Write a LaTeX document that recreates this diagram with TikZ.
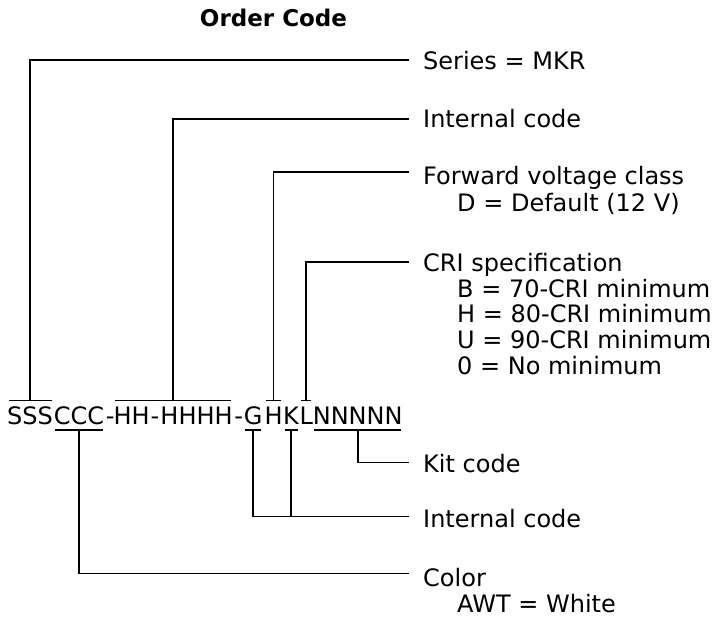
\documentclass[tikz,border=0pt]{standalone}
\usepackage{fontspec}
\setmainfont{DejaVu Sans}
\begin{document}
\begin{tikzpicture}[x=1pt,y=-1pt,
  title/.style={anchor=base, inner sep=0pt, font=\fontsize{23}{25}\selectfont\bfseries},
  lbl/.style={anchor=base west, inner sep=0pt, font=\fontsize{24}{26}\selectfont},
  code/.style={anchor=base west, inner xsep=0pt, inner ysep=6pt, text height=17.3pt, text depth=0pt, font=\fontsize{24}{26}\selectfont},
  hyph/.style={code, anchor=base},
  bar/.style={line width=1.7pt, shorten <=1.6pt, shorten >=1.6pt},
  wire/.style={line width=1.7pt}]
\useasboundingbox (0,0) rectangle (721,621);

% title
\node[title] (ttl) at (273.5,27) {Order Code};

% order code string
\node[code] (sss) at (7,424) {SSS};
\node[code] (ccc) at (53.7,424) {CCC};
\node[hyph] (hy1) at (110.3,424) {-};
\node[code] (hhh) at (113.3,424) {HH\makebox[10.9pt]{-}HHHH};
\node[hyph] (hy2) at (238.8,424) {-};
\node[code] (g) at (243.7,424) {G};
\node[code] (h) at (264.3,424) {H};
\node[code] (k) at (283,424) {K};
\node[code] (l) at (299.3,424) {L};
\node[code] (nnn) at (312.6,424) {NNNNN};

% bars
\draw[bar] (sss.north west) -- (sss.north east);
\draw[bar] (hhh.north west) -- (hhh.north east);
\draw[bar] (h.north west) -- (h.north east);
\draw[bar] (l.north west) -- (l.north east);
\draw[bar] (ccc.south west) -- (ccc.south east);
\draw[bar] (g.south west) -- (g.south east);
\draw[bar] (k.south west) -- (k.south east);
\draw[bar] (nnn.south west) -- (nnn.south east);

% line ends
\coordinate (e1) at (409,60);
\coordinate (e2) at (409,119);
\coordinate (e3) at (409,172.3);
\coordinate (e4) at (409,261.7);
\coordinate (e5) at (409,462.5);
\coordinate (e6) at (409,516.5);
\coordinate (e7) at (409,573.5);

% labels
\node[lbl] (series) at (423,69) {Series = MKR};
\node[lbl] (int1) at (423,127.3) {Internal code};
\node[lbl] (fwd) at (423,184.3) {Forward voltage class};
\node[lbl] (fwdD) at (457,211.5) {D = Default (12 V)};
\node[lbl] (cri) at (423,271.7) {CRI specification};
\node[lbl] (criB) at (457,297) {B = 70-CRI minimum};
\node[lbl] (criH) at (457,322.5) {H = 80-CRI minimum};
\node[lbl] (criU) at (457,348) {U = 90-CRI minimum};
\node[lbl] (cri0) at (457,374) {0 = No minimum};
\node[lbl] (kit) at (423,472) {Kit code};
\node[lbl] (int2) at (423,527) {Internal code};
\node[lbl] (color) at (423,586) {Color};
\node[lbl] (colorA) at (457,612) {AWT = White};

% connectors
\draw[wire] (sss.north) |- (e1);
\draw[wire] (hhh.north) |- (e2);
\draw[wire] (h.north) |- (e3);
\draw[wire] (l.north) |- (e4);
\draw[wire] (nnn.south) |- (e5);
\draw[wire] (g.south) |- (e6);
\draw[wire] (k.south) -- (k.south |- e6);
\draw[wire] (ccc.south) |- (e7);
\end{tikzpicture}
\end{document}
